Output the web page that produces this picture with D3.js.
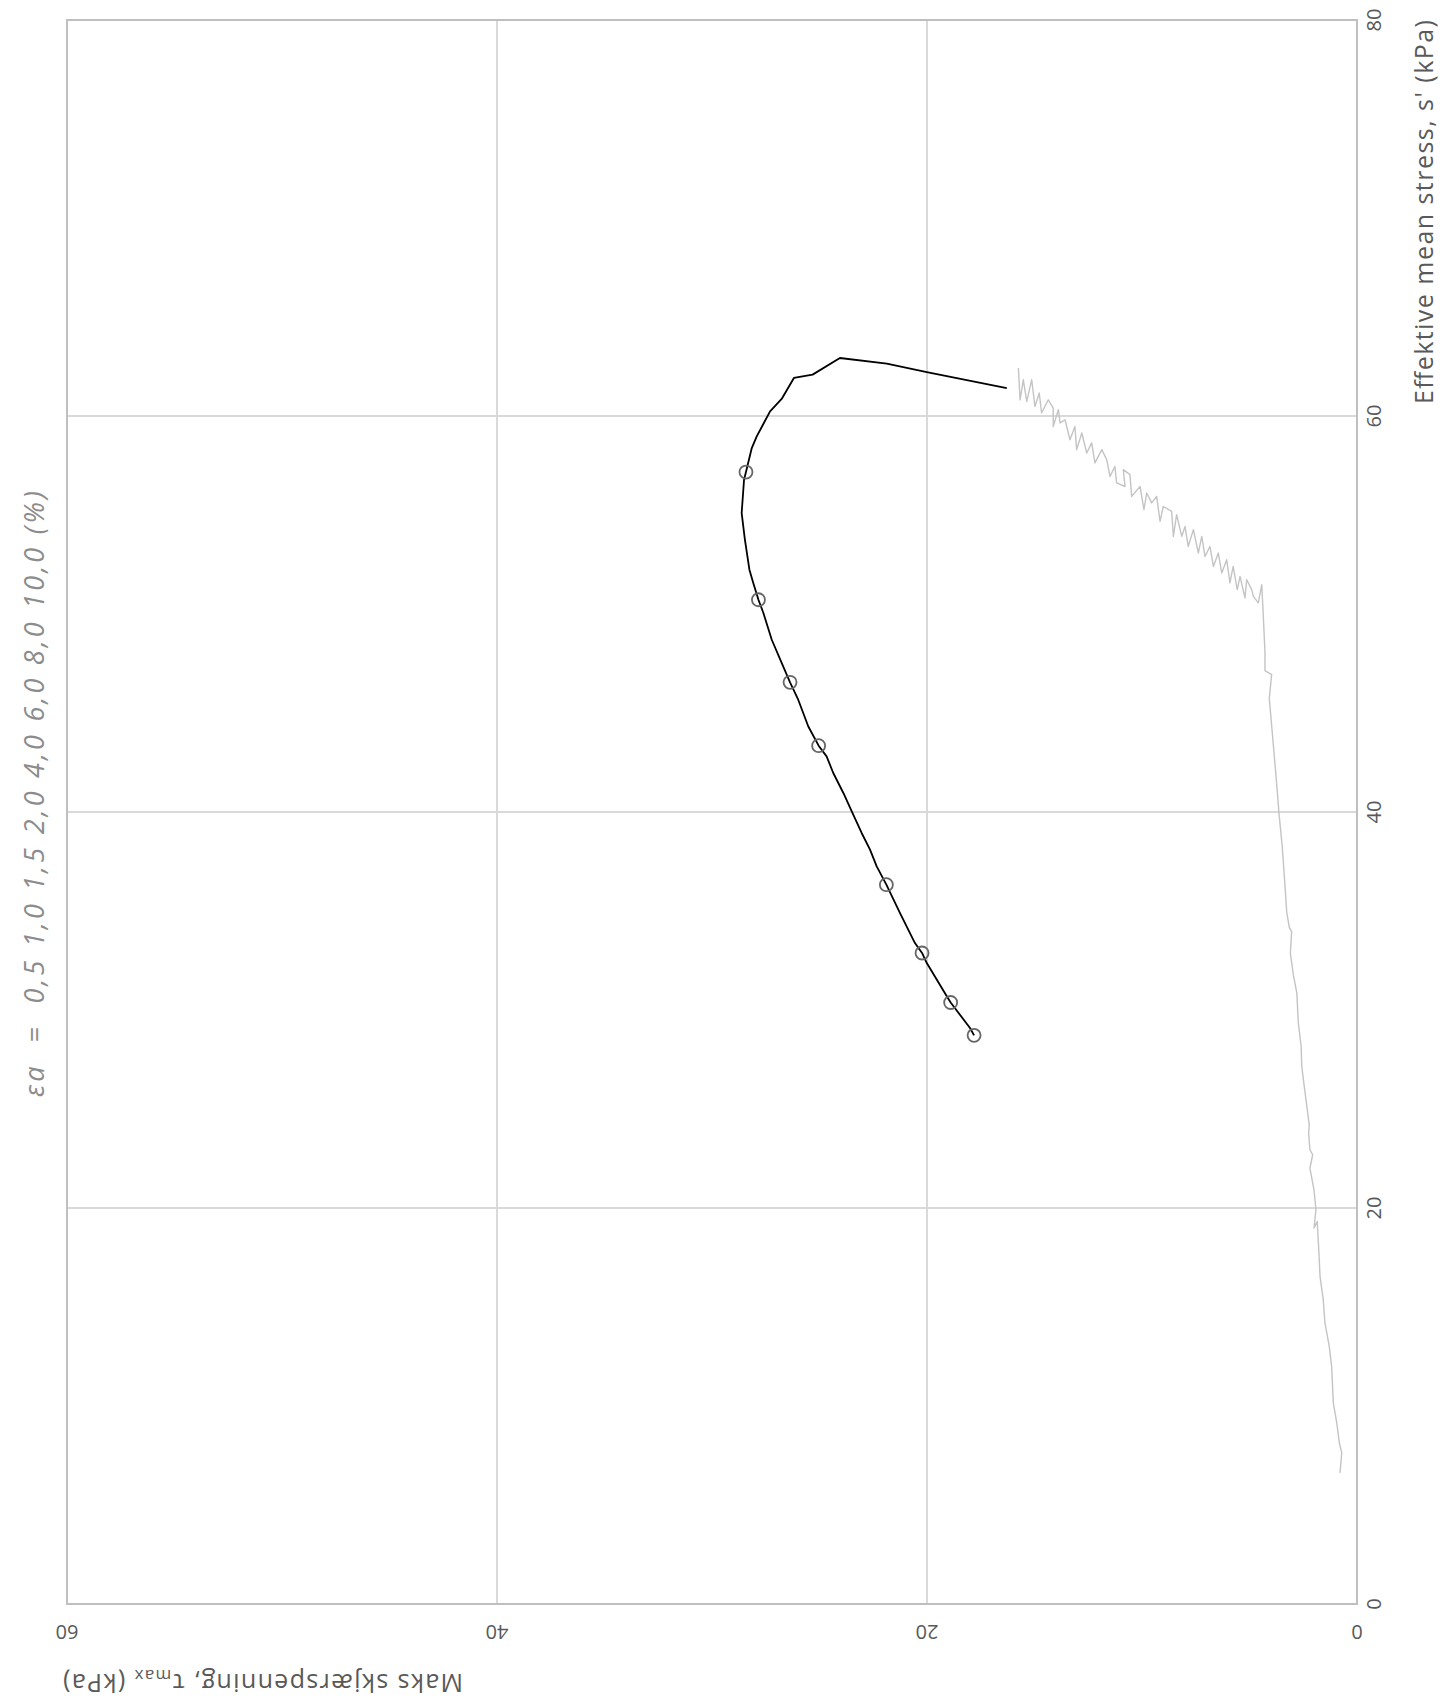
<!DOCTYPE html>
<html>
<head>
<meta charset="utf-8">
<script src="https://cdn.jsdelivr.net/npm/d3@7"></script>
<style>
  html, body { margin: 0; padding: 0; background: #fff; }
  svg { display: block; }
</style>
</head>
<body>
<svg id="chart" width="1450" height="1702"></svg>
<script>
// ---- data (s' = effective mean stress kPa, tau = max shear stress kPa) ----
const xTicks = [0, 20, 40, 60, 80];
const yTicks = [0, 20, 40, 60];
const xTitle = "Effektive mean stress, s' (kPa)";
const yTitleMain = "Maks skjærspenning, τ";
const yTitleSub = "max";
const yTitleEnd = " (kPa)";
const strainText = "εa  =  0,5 1,0 1,5 2,0 4,0 6,0 8,0 10,0 (%)";

// consolidation path (gray)
const consS = [6.62, 7.63, 8.13, 9.14, 10.15, 12.00, 13.01, 14.19, 15.37, 16.55, 17.73, 19.32, 18.99, 19.91, 20.92, 22.02, 22.69, 22.94,
  23.78, 24.19, 26.28, 27.18, 28.18, 29.37, 30.87, 31.77, 32.87, 33.96, 34.17, 34.96, 35.96, 38.16, 39.95, 41.35, 43.75, 45.74, 46.94, 47.14, 48.05, 49.93,
  51.48, 50.56, 50.89, 51.23, 51.73, 50.81, 51.90, 51.23, 52.40, 51.57, 52.74, 52.07, 53.08, 52.40, 53.41, 52.91, 53.92, 53.08, 54.26, 53.41,
  54.42, 53.92, 55.02, 53.92, 55.18, 55.43, 54.68, 55.94, 55.61, 56.11, 55.27, 56.44, 55.94, 57.04, 57.29, 56.44, 56.62, 57.45, 56.95, 57.79,
  58.30, 57.63, 58.64, 58.13, 59.14, 58.30, 59.47, 58.80, 59.81, 59.65, 60.32, 59.47, 60.40, 60.82, 60.15, 61.16, 60.48, 61.83, 60.74, 61.83, 60.82, 62.42];
const consTau = [0.79, 0.71, 0.82, 0.94, 1.10, 1.18, 1.29, 1.49, 1.57, 1.72, 1.77, 1.85, 2.00, 1.91, 2.00, 2.19, 2.06, 2.19,
  2.25, 2.22, 2.47, 2.57, 2.60, 2.73, 2.80, 2.96, 3.10, 3.04, 3.15, 3.27, 3.33, 3.47, 3.63, 3.73, 3.92, 4.08, 3.97, 4.28, 4.28, 4.36,
  4.43, 4.59, 4.82, 4.90, 5.13, 5.21, 5.44, 5.57, 5.76, 5.91, 6.06, 6.29, 6.45, 6.68, 6.84, 7.07, 7.22, 7.38, 7.61, 7.85,
  8.00, 8.15, 8.39, 8.54, 8.62, 9.01, 9.16, 9.32, 9.55, 9.78, 9.91, 10.09, 10.48, 10.56, 10.87, 10.79, 11.18, 11.26, 11.49, 11.64,
  11.87, 12.19, 12.34, 12.57, 12.80, 13.04, 13.12, 13.35, 13.58, 13.81, 13.89, 14.13, 14.13, 14.36, 14.67, 14.78, 14.98, 15.13, 15.36, 15.52, 15.67, 15.75];

// shearing path (black)
const shearS = [61.41, 62.22, 62.64, 62.93, 62.09, 61.92, 60.86, 60.23, 58.97, 58.38, 57.17, 56.78, 55.10, 53.76, 52.24, 51.57, 50.72, 50.05,
  48.70, 47.53, 46.55, 45.67, 44.32, 43.35, 42.81, 41.97, 40.96, 40.03, 38.94, 38.10, 37.25, 36.33, 34.90, 33.38, 32.88, 32.37, 30.69, 30.38, 29.09, 28.72];
const shearTau = [16.29, 20.01, 21.87, 24.05, 25.32, 26.19, 26.76, 27.30, 27.92, 28.15, 28.42, 28.51, 28.62, 28.47, 28.26, 28.08, 27.84, 27.61,
  27.22, 26.76, 26.37, 25.99, 25.52, 25.04, 24.67, 24.36, 23.89, 23.50, 23.04, 22.65, 22.34, 21.89, 21.26, 20.56, 20.23, 20.01, 19.08, 18.90, 18.00, 17.81];

// markers at εa = 0.5, 1.0, 1.5, 2.0, 4.0, 6.0, 8.0, 10.0 %
const markerStrain = [0.5, 1.0, 1.5, 2.0, 4.0, 6.0, 8.0, 10.0];
const markerS = [57.17, 50.72, 46.55, 43.35, 36.33, 32.88, 30.38, 28.72];
const markerTau = [28.42, 27.84, 26.37, 25.04, 21.89, 20.23, 18.90, 17.81];

// ---- layout (chart drawn unrotated, then rotated -90deg) ----
const W = 1702, H = 1450;
const plot = { left: 98, right: 1682, top: 67, bottom: 1357 };
const font = "'Open Sans', 'Noto Sans', sans-serif";

const svg = d3.select("#chart");
const g = svg.append("g").attr("transform", `translate(0,${W}) rotate(-90)`);

const x = d3.scaleLinear().domain([0, 80]).range([plot.left, plot.right]);
const y = d3.scaleLinear().domain([0, 60]).range([plot.bottom, plot.top]);

// gridlines
g.append("g").selectAll("line").data(xTicks.filter(d => d > 0 && d < 80)).join("line")
  .attr("x1", d => x(d)).attr("x2", d => x(d)).attr("y1", plot.top).attr("y2", plot.bottom)
  .attr("stroke", "#d9d9d9").attr("stroke-width", 2);
g.append("g").selectAll("line").data(yTicks.filter(d => d > 0 && d < 60)).join("line")
  .attr("y1", d => y(d)).attr("y2", d => y(d)).attr("x1", plot.left).attr("x2", plot.right)
  .attr("stroke", "#d9d9d9").attr("stroke-width", 2);

// frame
g.append("rect").attr("x", plot.left).attr("y", plot.top)
  .attr("width", plot.right - plot.left).attr("height", plot.bottom - plot.top)
  .attr("fill", "none").attr("stroke", "#bfbfbf").attr("stroke-width", 2);

// x tick labels
g.append("g").selectAll("text").data(xTicks).join("text")
  .attr("x", d => x(d)).attr("y", plot.bottom + 16)
  .attr("text-anchor", "middle").attr("dominant-baseline", "central")
  .attr("font-family", font).attr("font-size", 20).attr("fill", "#595959")
  .text(d => d);

// y tick labels (rotated)
g.append("g").selectAll("text").data(yTicks).join("text")
  .attr("transform", d => `translate(${plot.left - 28},${y(d)}) rotate(-90)`)
  .attr("text-anchor", "middle").attr("dominant-baseline", "central")
  .attr("font-family", font).attr("font-size", 20).attr("fill", "#595959")
  .text(d => d);

// x title
g.append("text").attr("x", plot.right).attr("y", plot.bottom + 66)
  .attr("text-anchor", "end").attr("dominant-baseline", "central")
  .attr("font-family", font).attr("font-size", 25).attr("fill", "#595959")
  .attr("textLength", 384).attr("lengthAdjust", "spacing")
  .text(xTitle);

// y title
const yt = g.append("text").attr("transform", `translate(18,${plot.top - 4}) rotate(-90)`)
  .attr("text-anchor", "end").attr("dominant-baseline", "central")
  .attr("font-family", font).attr("font-size", 25).attr("fill", "#595959")
  .attr("textLength", 400).attr("lengthAdjust", "spacing");
yt.append("tspan").text(yTitleMain);
yt.append("tspan").attr("font-size", 17).attr("dy", 7).text(yTitleSub);
yt.append("tspan").attr("dy", -7).text(yTitleEnd);

// strain text
g.append("text").attr("x", 908).attr("y", 33)
  .attr("text-anchor", "middle").attr("dominant-baseline", "central")
  .attr("font-family", font).attr("font-size", 27).attr("font-style", "italic")
  .attr("fill", "#8c8c8c").style("white-space", "pre")
  .attr("textLength", 606).attr("lengthAdjust", "spacing")
  .text(strainText);

// consolidation line
const cons = consS.map((s, i) => [s, consTau[i]]);
const shear = shearS.map((s, i) => [s, shearTau[i]]);
const line = d3.line().x(d => x(d[0])).y(d => y(d[1]));

g.append("path").datum(cons).attr("d", line)
  .attr("fill", "none").attr("stroke", "#c4c4c4").attr("stroke-width", 1.4)
  .attr("stroke-linejoin", "round");

g.append("path").datum(shear).attr("d", line)
  .attr("fill", "none").attr("stroke", "#000").attr("stroke-width", 1.8)
  .attr("stroke-linejoin", "round");

g.append("g").selectAll("circle").data(markerS.map((s, i) => [s, markerTau[i]])).join("circle")
  .attr("cx", d => x(d[0])).attr("cy", d => y(d[1])).attr("r", 6.5)
  .attr("fill", "none").attr("stroke", "#666").attr("stroke-width", 1.8);
</script>
</body>
</html>
